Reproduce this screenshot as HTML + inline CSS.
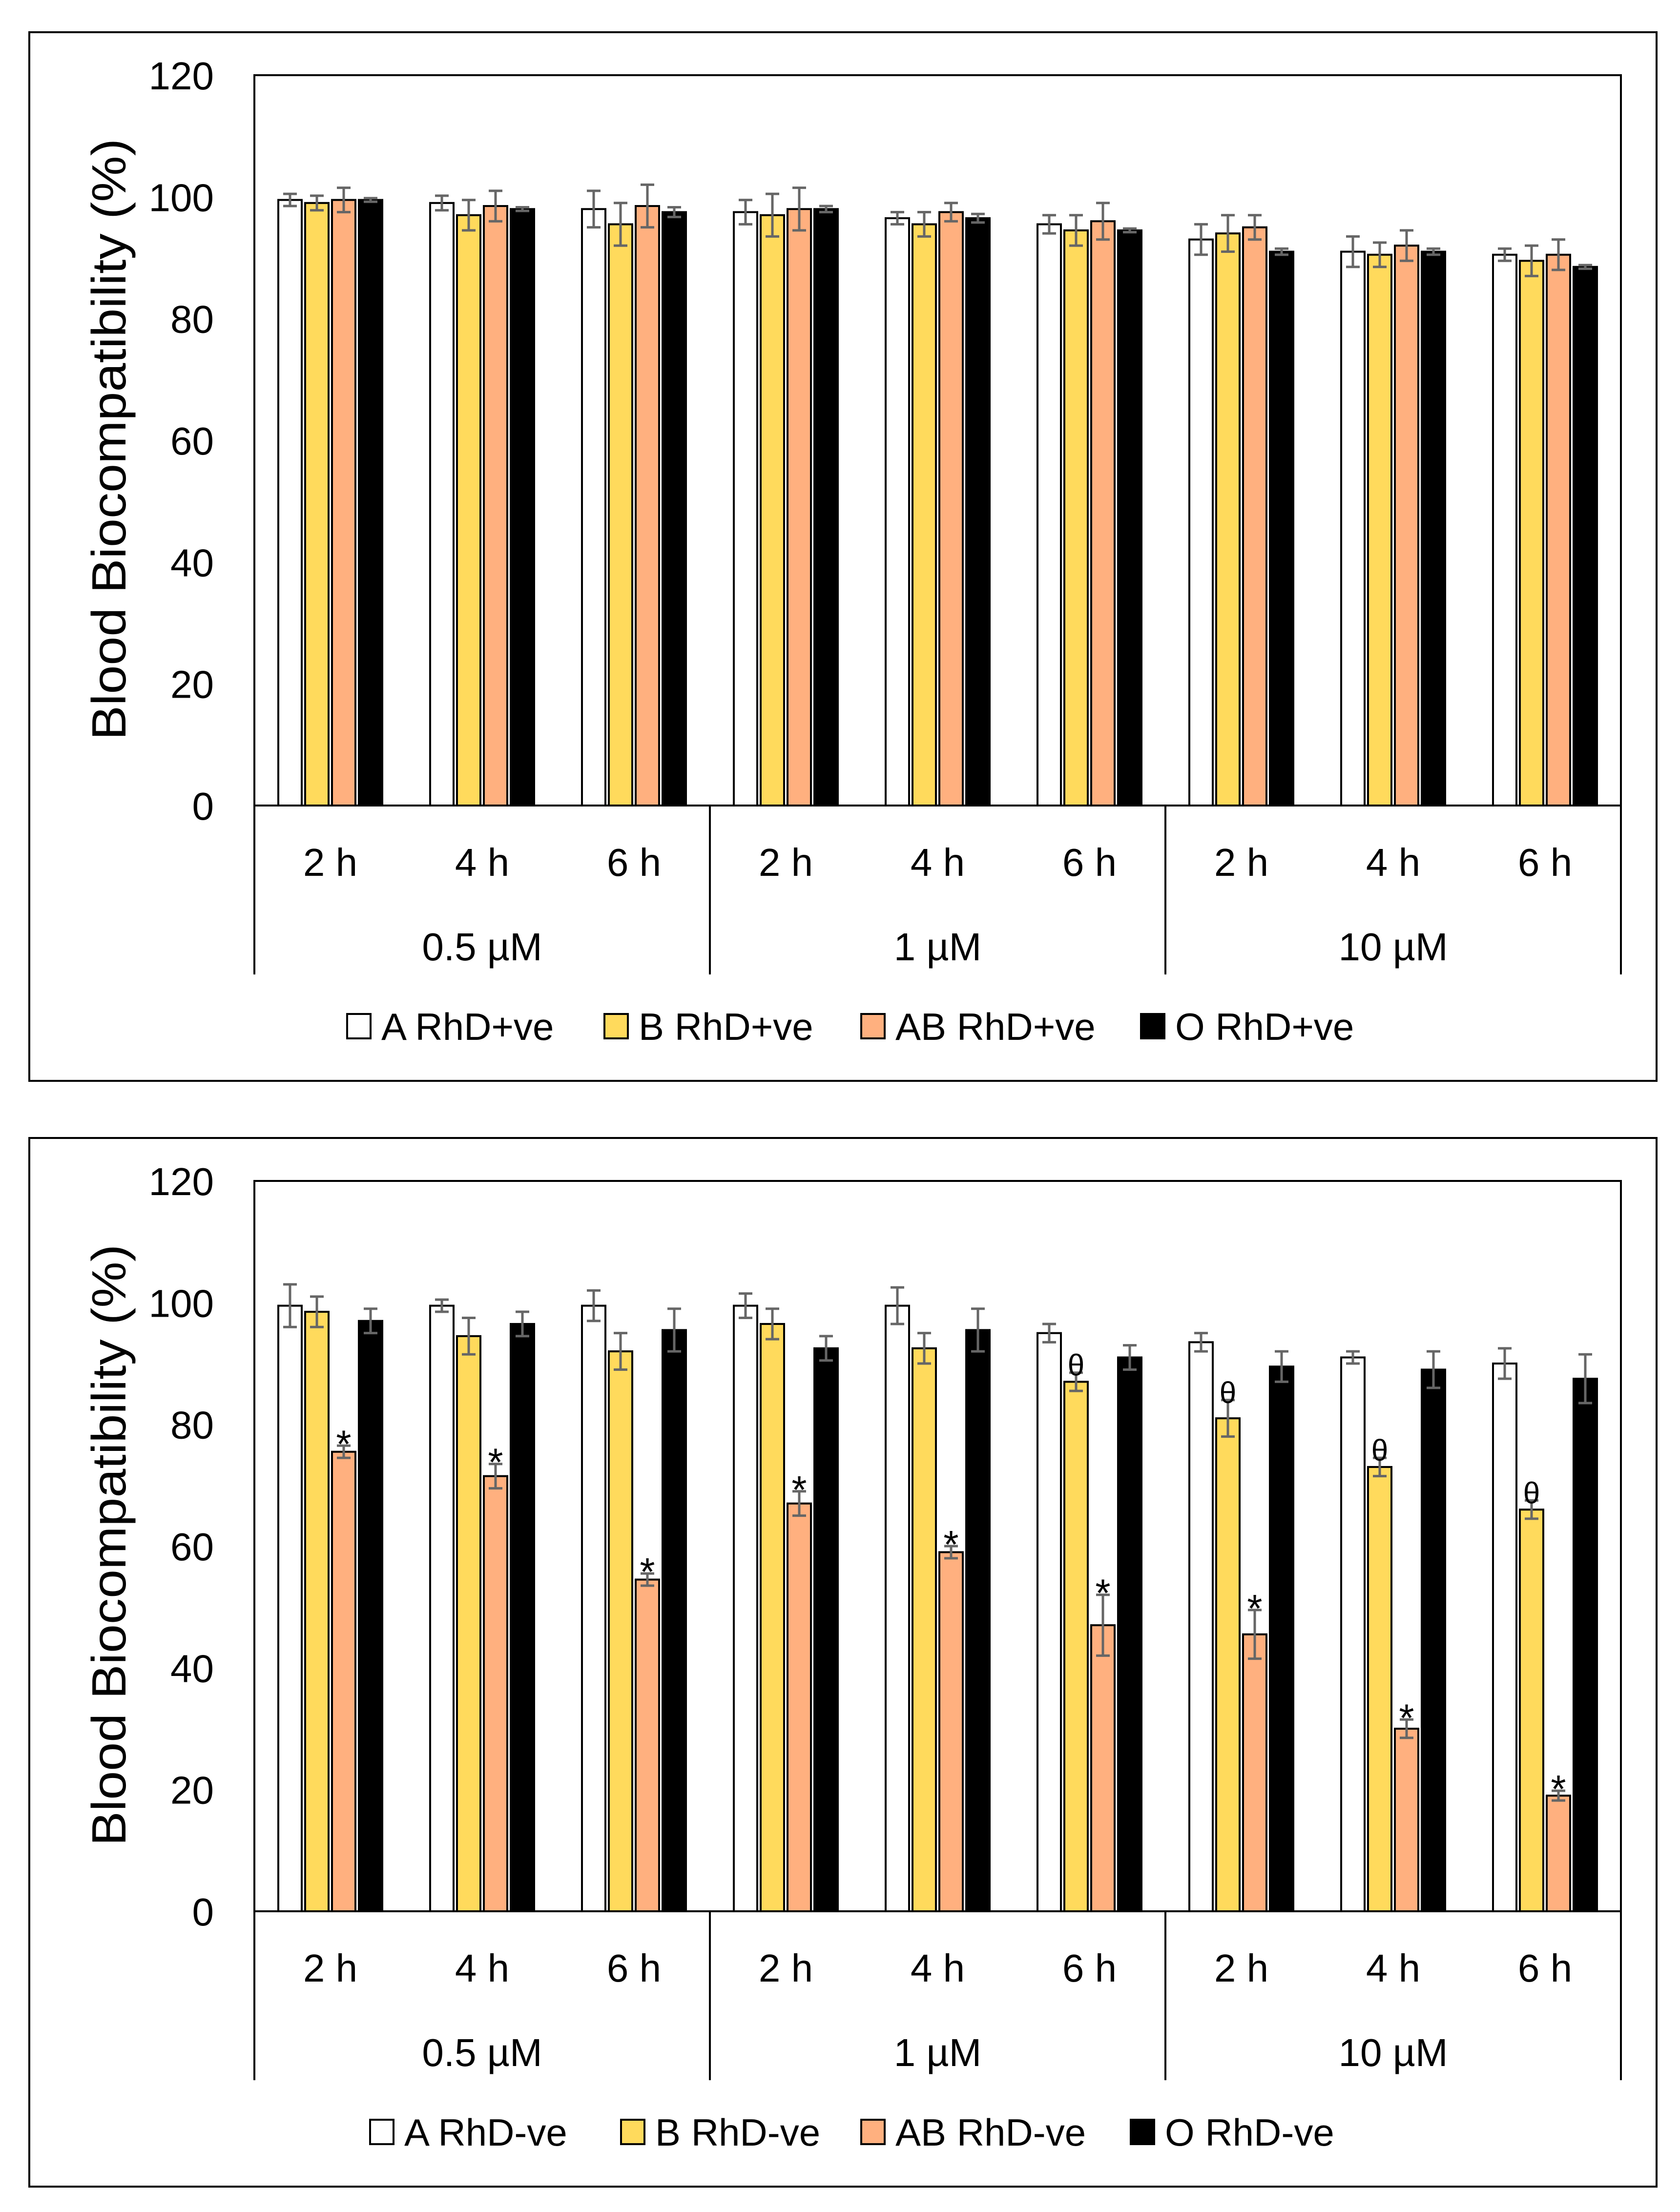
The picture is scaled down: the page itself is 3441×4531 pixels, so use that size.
<!DOCTYPE html>
<html><head><meta charset="utf-8"><style>html,body{margin:0;padding:0;background:#fff}svg{display:block}text{font-family:"Liberation Sans",sans-serif}</style></head>
<body>
<svg id="fig" xmlns="http://www.w3.org/2000/svg" width="3441" height="4531" viewBox="0 0 3441 4531"></svg>
<script>
const times = ["2 h","4 h","6 h","2 h","4 h","6 h","2 h","4 h","6 h"];
const concs = ["0.5 µM","1 µM","10 µM"];
const yTicks = [0,20,40,60,80,100,120];
const topA  = [99.5,99,98,97.5,96.5,95.5,93,91,90.5];
const topB  = [99,97,95.5,97,95.5,94.5,94,90.5,89.5];
const topAB = [99.5,98.5,98.5,98,97.5,96,95,92,90.5];
const topO  = [99.5,98,97.5,98,96.5,94.5,91,91,88.5];
const topAerr  = [1,1.2,3,2,1,1.5,2.5,2.5,1];
const topBerr  = [1.2,2.5,3.5,3.5,2,2.5,3,2,2.5];
const topABerr = [2,2.5,3.5,3.5,1.5,3,2,2.5,2.5];
const topOerr  = [0.3,0.3,0.8,0.5,0.7,0.3,0.5,0.5,0.3];
const botA  = [99.5,99.5,99.5,99.5,99.5,95,93.5,91,90];
const botB  = [98.5,94.5,92,96.5,92.5,87,81,73,66];
const botAB = [75.5,71.5,54.5,67,59,47,45.5,30,19];
const botO  = [97,96.5,95.5,92.5,95.5,91,89.5,89,87.5];
const botAerr  = [3.5,1,2.5,2,3,1.5,1.5,1,2.5];
const botBerr  = [2.5,3,3,2.5,2.5,1.5,3,1.5,1.5];
const botABerr = [1,2,1,2,1,5,4,1.5,0.8];
const botOerr  = [2,2,3.5,2,3.5,2,2.5,3,4];
const botBmark  = ["","","","","","θ","θ","θ","θ"];
const botABmark = ["*","*","*","*","*","*","*","*","*"];
const topLegend = ["A RhD+ve","B RhD+ve","AB RhD+ve","O RhD+ve"];
const botLegend = ["A RhD-ve","B RhD-ve","AB RhD-ve","O RhD-ve"];

const NS="http://www.w3.org/2000/svg";
const svg=document.getElementById('fig');
const colors=["#ffffff","#ffda5c","#ffb07f","#000000"];
function mk(tag,attrs,parent,txt){const e=document.createElementNS(NS,tag);for(const k in attrs)e.setAttribute(k,attrs[k]);if(txt!==undefined)e.textContent=txt;(parent||svg).appendChild(e);return e;}

function chart(off,series,errs,marks,legend,legX,prefix){
  const g=mk('g',{});
  
  
  const L=521,R=3320,T=154+off,B=1650+off;
  const y=v=>B-(v/120)*(B-T);
  const catW=(R-L)/times.length;
  const x=i=>L+i*catW;
  const frame=mk('rect',{x:60,y:66+off,width:3333,height:2148,fill:'none',stroke:'#000','stroke-width':4},g);
  
  
  const pa=mk('rect',{x:L,y:T,width:R-L,height:B-T,fill:'none',stroke:'#000','stroke-width':4},g);
  
  
  yTicks.forEach(t=>{const tx=mk('text',{x:438,y:y(t)+29,'text-anchor':'end','font-size':80},g,String(t));
    
    });
  const yt=mk('text',{x:0,y:0,'text-anchor':'middle','font-size':98,transform:`translate(257,${(T+B)/2-2}) rotate(-90)`,textLength:1232,lengthAdjust:'spacingAndGlyphs'},g,'Blood Biocompatibility (%)');
  
  
  const bw=48,st=55,go=(catW-(3*st+bw))/2;
  times.forEach((tl,i)=>{
    for(let s=0;s<4;s++){
      const v=series[s][i],e=errs[s][i];
      const bx=x(i)+go+s*st;
      const r=mk('rect',{x:bx,y:y(v),width:bw,height:B-y(v),fill:colors[s],stroke:'#000','stroke-width':4},g);
      
      
      const cx=bx+bw/2;
      const eb=mk('path',{d:`M${cx} ${y(v+e)}V${y(v-e)}M${cx-14} ${y(v+e)}H${cx+14}M${cx-14} ${y(v-e)}H${cx+14}`,stroke:'#666','stroke-width':5,fill:'none'},g);
      
      
      if(marks&&marks[s]&&marks[s][i]){
        const m=marks[s][i];
        const mt=mk('text',{x:cx,y:y(v+e)+(m==='*'?24:6),'text-anchor':'middle','font-size':m==='*'?80:62,'font-family':'Liberation Serif, serif'},g,m);
        
        
      }
    }
    const tl2=mk('text',{x:x(i)+catW/2,y:1794+off,'text-anchor':'middle','font-size':80},g,tl);
    
    
  });
  for(let k=0;k<=3;k++){const dx=L+k*3*catW;
    const ln=mk('line',{x1:dx,y1:B,x2:dx,y2:1996+off,stroke:'#000','stroke-width':4},g);
    
    }
  concs.forEach((c,k)=>{const ct=mk('text',{x:L+(k*3+1.5)*catW,y:1967+off,'text-anchor':'middle','font-size':80},g,c);
    
    });
  legend.forEach((lb,s)=>{
    const lx=legX[s],ly=2102+off;
    const sq=mk('rect',{x:lx,y:ly-25,width:48,height:50,fill:colors[s],stroke:'#000','stroke-width':4},g);
    
    
    const lt=mk('text',{x:lx+70,y:ly+28,'font-size':78},g,lb);
    
    
  });
}
chart(0,[topA,topB,topAB,topO],[topAerr,topBerr,topABerr,topOerr],null,topLegend,[711,1238,1764,2337],'top');
chart(2265,[botA,botB,botAB,botO],[botAerr,botBerr,botABerr,botOerr],[null,botBmark,botABmark,null],botLegend,[758,1272,1764,2316],'bottom');
</script>
</body></html>
